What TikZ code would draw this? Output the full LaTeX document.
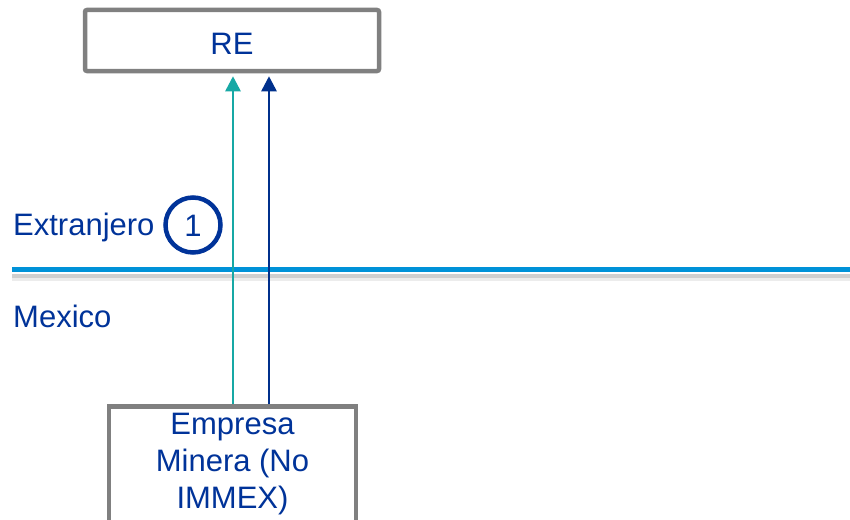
\documentclass[tikz,border=0pt]{standalone}
\usepackage{fontspec}
\setmainfont{Liberation Sans}
\usetikzlibrary{arrows.meta}
\definecolor{txtblue}{RGB}{0,51,153}
\definecolor{arrteal}{RGB}{23,168,165}
\definecolor{arrblue}{RGB}{0,48,140}
\definecolor{lineblue}{RGB}{0,146,216}
\definecolor{boxgray}{RGB}{128,128,128}
\tikzset{
  box/.style={draw=boxgray, line width=4.5pt, fill=white, inner sep=0pt},
  lbl/.style={text=txtblue, font=\fontsize{31}{37}\selectfont, inner sep=0pt},
  flow/.style={line width=2.6pt, -{Triangle[width=15pt,length=15pt]}, shorten >=3pt},
}
\begin{document}
\begin{tikzpicture}[x=1pt, y=-1pt]
  \useasboundingbox (0,0) rectangle (850,519);
  \clip (0,0) rectangle (850,519);

  % border between the two jurisdictions, with its soft shadow
  \draw[gray!15, line width=3pt] (12,279.5) -- (850,279.5);
  \draw[gray!38, line width=4pt] (12,275.5) -- (850,275.5);
  \draw[lineblue, line width=5pt] (12,269.5) -- (850,269.5);

  % entities
  \node[box, rounded corners=2pt, minimum width=294pt, minimum height=61pt] (re) at (232,40.5) {};
  \node[lbl, anchor=base] (retext) at (232,54) {RE};

  \node[box, anchor=north, minimum width=247pt, minimum height=140pt] (mine) at (232.5,404) {};
  \node[lbl, anchor=base, align=center] (minetext) at (232.5,508) {Empresa\\Minera (No\\IMMEX)};

  % flows from the mining company up to RE
  \draw[flow, arrteal] ([xshift=0.5pt]mine.north) -- ([xshift=1pt]re.south);
  \draw[flow, arrblue] ([xshift=36.5pt]mine.north) -- ([xshift=37pt]re.south);

  % side labels
  \node[lbl, anchor=base west] (ext) at (13,235) {Extranjero};
  \node[lbl, anchor=base west] (mex) at (13,327) {Mexico};
  \node[circle, draw=txtblue, line width=4.5pt, minimum size=55pt, inner sep=0pt] (one) at (193,225) {};
  \node[lbl, anchor=base] (onetext) at (193,236) {1};
\end{tikzpicture}
\end{document}
